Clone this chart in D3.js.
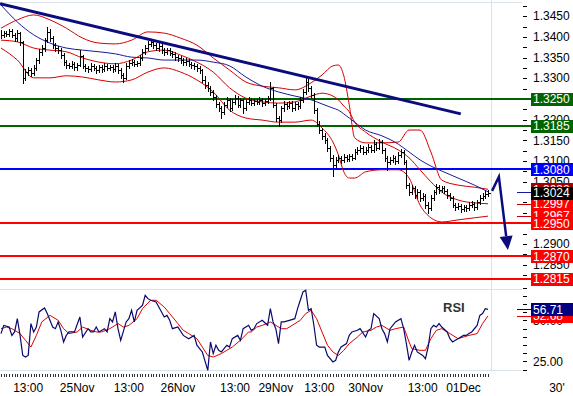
<!DOCTYPE html>
<html>
<head>
<meta charset="utf-8">
<script src="https://cdn.jsdelivr.net/npm/d3@7"></script>
<style>
body { margin: 0; background: #fff; }
svg { display: block; font-family: 'Liberation Sans', Arial, sans-serif; }
</style>
</head>
<body>
<div class="chart"></div>
<script>
// 30' bars, EUR/USD style quotes
var closes = [
  1.3405,1.3409,1.3407,1.3414,1.3405,1.3397,1.3409,1.3388,1.3301,1.3315,
  1.3320,1.3313,1.3325,1.3344,1.3364,1.3373,1.3392,1.3412,1.3397,1.3380,
  1.3373,1.3368,1.3356,1.3339,1.3332,1.3330,1.3335,1.3327,1.3332,1.3354,
  1.3330,1.3325,1.3322,1.3330,1.3325,1.3320,1.3327,1.3322,1.3330,1.3325,
  1.3327,1.3322,1.3330,1.3320,1.3308,1.3301,1.3330,1.3337,1.3339,1.3335,
  1.3337,1.3349,1.3364,1.3373,1.3383,1.3388,1.3380,1.3373,1.3378,1.3368,
  1.3364,1.3368,1.3361,1.3359,1.3351,1.3349,1.3344,1.3339,1.3342,1.3335,
  1.3332,1.3330,1.3325,1.3320,1.3296,1.3284,1.3277,1.3267,1.3255,1.3238,
  1.3228,1.3219,1.3236,1.3248,1.3228,1.3243,1.3252,1.3236,1.3248,1.3228,
  1.3243,1.3248,1.3240,1.3245,1.3243,1.3248,1.3240,1.3245,1.3252,1.3277,
  1.3236,1.3204,1.3199,1.3228,1.3238,1.3233,1.3240,1.3228,1.3238,1.3233,
  1.3248,1.3267,1.3291,1.3277,1.3260,1.3223,1.3190,1.3175,1.3161,1.3151,
  1.3132,1.3108,1.3091,1.3103,1.3108,1.3103,1.3110,1.3105,1.3112,1.3108,
  1.3122,1.3127,1.3132,1.3122,1.3127,1.3134,1.3127,1.3141,1.3132,1.3146,
  1.3127,1.3108,1.3098,1.3103,1.3108,1.3100,1.3115,1.3122,1.3098,1.3042,
  1.3025,1.3035,1.3018,1.3025,1.3011,1.3016,1.2994,1.2987,1.3011,1.3025,
  1.3037,1.3030,1.3035,1.3028,1.3018,1.3011,1.2994,1.2989,1.2992,1.2984,
  1.2989,1.2987,1.2994,1.2996,1.2989,1.3001,1.3011,1.3016,1.3021,1.3024
];
var highs = [
  1.3416,1.3414,1.3415,1.3420,1.3418,1.3409,1.3417,1.3412,1.3390,1.3322,
  1.3328,1.3326,1.3331,1.3350,1.3370,1.3380,1.3398,1.3424,1.3418,1.3402,
  1.3386,1.3378,1.3372,1.3360,1.3345,1.3338,1.3341,1.3339,1.3337,1.3368,
  1.3357,1.3334,1.3330,1.3336,1.3335,1.3329,1.3333,1.3331,1.3336,1.3334,
  1.3333,1.3331,1.3336,1.3334,1.3325,1.3313,1.3336,1.3343,1.3346,1.3344,
  1.3342,1.3355,1.3370,1.3380,1.3390,1.3395,1.3393,1.3385,1.3384,1.3382,
  1.3373,1.3374,1.3372,1.3366,1.3364,1.3357,1.3354,1.3350,1.3348,1.3346,
  1.3340,1.3338,1.3335,1.3330,1.3323,1.3305,1.3290,1.3282,1.3271,1.3260,
  1.3243,1.3233,1.3242,1.3255,1.3252,1.3249,1.3259,1.3256,1.3253,1.3251,
  1.3248,1.3254,1.3252,1.3251,1.3250,1.3254,1.3253,1.3251,1.3258,1.3291,
  1.3280,1.3240,1.3210,1.3234,1.3244,1.3243,1.3246,1.3245,1.3243,1.3242,
  1.3254,1.3273,1.3303,1.3298,1.3282,1.3264,1.3228,1.3196,1.3180,1.3168,
  1.3156,1.3137,1.3114,1.3110,1.3114,1.3113,1.3116,1.3115,1.3118,1.3117,
  1.3128,1.3133,1.3139,1.3137,1.3133,1.3141,1.3139,1.3150,1.3146,1.3153,
  1.3150,1.3131,1.3112,1.3110,1.3114,1.3113,1.3122,1.3130,1.3126,1.3102,
  1.3048,1.3042,1.3040,1.3032,1.3030,1.3022,1.3020,1.3000,1.3017,1.3031,
  1.3044,1.3042,1.3041,1.3040,1.3033,1.3023,1.3015,1.2999,1.2998,1.2996,
  1.2995,1.2994,1.3000,1.3003,1.3001,1.3007,1.3017,1.3022,1.3027,1.3030
];
var lows = [
  1.3398,1.3400,1.3401,1.3403,1.3399,1.3390,1.3390,1.3381,1.3289,1.3295,
  1.3308,1.3306,1.3309,1.3320,1.3338,1.3355,1.3366,1.3388,1.3390,1.3374,
  1.3366,1.3360,1.3349,1.3333,1.3326,1.3324,1.3325,1.3321,1.3320,1.3329,
  1.3324,1.3318,1.3316,1.3317,1.3319,1.3313,1.3315,1.3316,1.3318,1.3319,
  1.3320,1.3315,1.3317,1.3312,1.3300,1.3291,1.3298,1.3325,1.3331,1.3329,
  1.3330,1.3333,1.3345,1.3359,1.3368,1.3378,1.3374,1.3368,1.3367,1.3362,
  1.3357,1.3358,1.3355,1.3352,1.3345,1.3342,1.3337,1.3333,1.3333,1.3329,
  1.3326,1.3323,1.3318,1.3312,1.3290,1.3277,1.3270,1.3260,1.3247,1.3230,
  1.3220,1.3204,1.3214,1.3231,1.3222,1.3223,1.3238,1.3230,1.3231,1.3216,
  1.3224,1.3238,1.3235,1.3236,1.3237,1.3238,1.3234,1.3235,1.3240,1.3248,
  1.3230,1.3196,1.3185,1.3194,1.3222,1.3226,1.3227,1.3222,1.3223,1.3226,
  1.3229,1.3243,1.3262,1.3270,1.3254,1.3215,1.3184,1.3168,1.3153,1.3143,
  1.3124,1.3099,1.3063,1.3085,1.3097,1.3096,1.3098,1.3099,1.3100,1.3102,
  1.3104,1.3117,1.3121,1.3116,1.3117,1.3122,1.3121,1.3123,1.3126,1.3128,
  1.3120,1.3101,1.3079,1.3092,1.3097,1.3094,1.3096,1.3110,1.3092,1.3035,
  1.3018,1.3020,1.3010,1.3012,1.3004,1.3005,1.2986,1.2975,1.2982,1.3006,
  1.3020,1.3024,1.3025,1.3022,1.3012,1.3005,1.2988,1.2983,1.2984,1.2978,
  1.2979,1.2980,1.2982,1.2988,1.2982,1.2984,1.2996,1.3006,1.3010,1.3015
];

// bollinger bands + moving average, read at these bars
var bandIdx = [0,6,12,18,24,30,36,42,48,54,60,66,72,78,84,90,96,102,108,114,118,122,124,126,128,130,134,140,146,150,154,158,162,168,174,179];
var upper = [1.3421,1.3441,1.3453,1.3441,1.3421,1.3397,1.3385,1.3383,1.3392,1.3412,1.3409,1.3397,1.3380,1.3349,1.3320,1.3291,1.3281,1.3277,1.3272,1.3289,1.3308,1.3330,1.3332,1.3306,1.3236,1.3156,1.3144,1.3144,1.3146,1.3175,1.3175,1.3122,1.3054,1.3042,1.3037,1.3032];
var middle = [1.3392,1.3388,1.3373,1.3368,1.3364,1.3349,1.3339,1.3335,1.3344,1.3364,1.3368,1.3356,1.3339,1.3315,1.3277,1.3252,1.3243,1.3240,1.3243,1.3257,1.3264,1.3257,1.3248,1.3233,1.3219,1.3194,1.3170,1.3146,1.3127,1.3108,1.3079,1.3050,1.3025,1.3006,1.2999,1.2997];
var lower = [1.3373,1.3344,1.3301,1.3301,1.3306,1.3303,1.3296,1.3291,1.3296,1.3315,1.3325,1.3315,1.3296,1.3267,1.3223,1.3204,1.3199,1.3194,1.3194,1.3199,1.3180,1.3146,1.3115,1.3074,1.3059,1.3059,1.3074,1.3079,1.3079,1.3059,1.2994,1.2963,1.2953,1.2958,1.2963,1.2967];
var movAvg = [1.3477,1.3436,1.3405,1.3385,1.3373,1.3368,1.3364,1.3359,1.3351,1.3349,1.3344,1.3344,1.3344,1.3339,1.3330,1.3303,1.3281,1.3267,1.3257,1.3248,1.3238,1.3228,1.3223,1.3214,1.3204,1.3194,1.3175,1.3161,1.3141,1.3122,1.3103,1.3088,1.3076,1.3059,1.3042,1.3026];

// RSI and its signal line
var rsiIdx = [0,1,3,4,5,6,7,8,9,10,11,12,13,14,16,17,19,20,21,22,23,24,25,27,29,30,32,33,34,35,36,38,39,40,41,42,43,44,46,47,48,49,50,52,53,54,55,57,58,60,61,62,63,65,67,69,71,72,74,76,77,78,79,80,81,83,84,85,87,88,89,91,92,93,94,96,98,99,100,101,102,103,104,106,108,109,110,111,112,113,114,115,116,117,119,120,122,123,124,125,127,128,129,131,132,134,135,136,137,139,140,141,142,143,144,145,147,148,149,150,151,152,153,155,156,157,158,159,160,161,162,164,165,166,167,168,170,171,172,173,175,176,177,178,179];
var rsiVals = [41.9,46.9,45.9,40.8,42.9,51.0,40.8,28.6,27.6,28.6,48.0,42.9,45.9,55.1,57.5,54.1,45.9,44.9,49.0,43.9,36.8,40.8,42.9,42.9,52.0,39.8,44.9,42.9,42.9,45.9,42.9,44.9,42.9,51.0,49.0,55.1,44.9,37.8,49.0,51.0,56.1,49.0,56.1,59.1,65.2,63.2,62.2,61.2,58.1,52.0,53.0,50.0,44.9,45.9,40.8,38.8,40.8,34.8,30.7,19.5,36.8,29.7,34.8,31.7,30.7,34.8,33.7,38.8,40.8,37.8,44.9,47.0,43.9,44.9,48.0,50.0,47.0,57.1,49.0,44.9,35.8,49.0,49.0,50.0,51.0,57.1,62.2,67.3,68.3,56.1,57.1,47.0,34.8,33.7,33.7,28.6,24.6,25.6,30.7,33.7,35.8,40.8,42.9,43.9,44.9,39.8,43.9,44.9,54.1,51.0,44.9,41.9,36.8,44.9,46.9,49.0,51.0,44.9,35.8,25.6,30.7,34.8,30.7,28.6,26.6,33.7,44.9,46.9,45.9,48.0,45.9,42.9,38.8,36.8,37.8,38.8,40.8,40.8,41.9,42.9,46.9,53.0,54.1,57.1,56.71];
var sigIdx = [0,2,4,7,9,11,13,15,18,21,23,25,28,30,33,35,37,40,43,45,47,50,52,55,57,60,62,65,67,69,72,74,76,78,81,83,85,88,91,92,94,96,99,100,103,105,107,110,112,114,116,118,120,122,124,126,128,131,133,136,138,140,143,145,148,150,151,154,156,158,160,162,165,168,170,172,175,177,179];
var sigVals = [44.9,45.9,44.9,41.9,37.8,33.7,40.8,49.0,53.0,50.0,44.9,41.9,42.9,45.9,43.9,42.9,42.9,44.9,48.0,45.9,46.9,51.0,57.1,62.2,62.2,58.1,54.1,48.0,43.9,41.9,38.8,33.7,28.6,27.6,29.7,31.7,33.7,37.8,42.9,42.9,45.9,46.9,49.0,48.0,44.9,44.9,46.9,50.0,54.1,56.1,51.0,42.9,34.8,30.7,28.6,31.7,35.8,39.8,42.9,43.9,45.9,46.9,43.9,44.9,45.9,36.8,32.7,31.7,31.7,38.8,43.9,44.9,41.9,38.8,39.8,40.8,41.9,48.0,52.68];

// support / resistance levels, trendline and projected path
var levels = [1.3250, 1.3185, 1.3080, 1.2950, 1.2870, 1.2815];
var trendIdx = [0, 169];
var trendVals = [1.3480, 1.3214];
var arrowIdx = [180.5, 183, 186.3];
var arrowVals = [1.3028, 1.3062, 1.2885];

var xTickIdx = [10, 28, 47, 65, 86, 101, 117, 134, 155, 170];
var xTickLabels = ['13:00', '25Nov', '13:00', '26Nov', '13:00', '29Nov', '13:00', '30Nov', '13:00', '01Dec'];

var width = 573;
var height = 396;

var svg = d3.select('.chart')
  .append('svg')
    .attr('width', width)
    .attr('height', height);

var x = d3.scaleLinear().domain([0, closes.length - 1]).range([1, 488]);
var y = d3.scaleLinear().domain([1.2800, 1.3490]).range([285.3, -0.4]);
var yr = d3.scaleLinear().domain([18, 70]).range([372.8, 287.5]);

var levelColors = ['#006400', '#006400', '#0000ff', '#ff0000', '#ff0000', '#ff0000'];

// light frame / grid
var grid = svg.append('g').attr('stroke', '#d9e1ea').attr('shape-rendering', 'crispEdges');
grid.append('line').attr('x1', 491.5).attr('x2', 491.5).attr('y1', 0).attr('y2', 372);
grid.append('line').attr('x1', 0).attr('x2', 522).attr('y1', 2.5).attr('y2', 2.5);
grid.append('line').attr('x1', 0).attr('x2', 522).attr('y1', 289.5).attr('y2', 289.5);
grid.append('line').attr('x1', 0).attr('x2', 522).attr('y1', 370.5).attr('y2', 370.5);

// right price axis
var priceTicks = d3.range(1.2825, 1.3490, 0.0025);
svg.append('g')
  .selectAll('line')
  .data(priceTicks)
  .enter().append('line')
    .attr('x1', 523).attr('x2', 527)
    .attr('y1', d => Math.round(y(d)) + 0.5)
    .attr('y2', d => Math.round(y(d)) + 0.5)
    .attr('stroke', '#000')
    .attr('shape-rendering', 'crispEdges');
svg.append('g')
  .selectAll('text')
  .data(priceTicks.filter((d, i) => i % 2 === 1))
  .enter().append('text')
    .attr('x', 533)
    .attr('y', d => y(d))
    .attr('dy', '0.35em')
    .attr('font-size', 12)
    .text(d => d3.format('.4f')(d));

// rsi axis
var rsiTicks = d3.range(20, 71, 5);
svg.append('g')
  .selectAll('line')
  .data(rsiTicks)
  .enter().append('line')
    .attr('x1', 523).attr('x2', 527)
    .attr('y1', d => Math.round(yr(d)) + 0.5)
    .attr('y2', d => Math.round(yr(d)) + 0.5)
    .attr('stroke', '#000')
    .attr('shape-rendering', 'crispEdges');
svg.append('g')
  .selectAll('text')
  .data([25, 50])
  .enter().append('text')
    .attr('x', 533)
    .attr('y', d => yr(d))
    .attr('dy', '0.35em')
    .attr('font-size', 12)
    .text(d => d3.format('.2f')(d));

// horizontal levels
svg.append('g')
  .selectAll('line')
  .data(levels)
  .enter().append('line')
    .attr('x1', 0).attr('x2', 531)
    .attr('y1', d => Math.round(y(d)))
    .attr('y2', d => Math.round(y(d)))
    .attr('stroke', (d, i) => levelColors[i])
    .attr('stroke-width', 2)
    .attr('shape-rendering', 'crispEdges');

function bandLine(vals) {
  return d3.line()
    .x((d, i) => x(bandIdx[i]))
    .y(d => y(d))
    .curve(d3.curveMonotoneX)(vals);
}

[upper, middle, lower].forEach(function (b) {
  svg.append('path')
    .attr('d', bandLine(b))
    .attr('fill', 'none')
    .attr('stroke', '#d40000')
    .attr('stroke-width', 1);
});
svg.append('path')
  .attr('d', bandLine(movAvg))
  .attr('fill', 'none')
  .attr('stroke', '#1a1a9c')
  .attr('stroke-width', 1);

// ohlc bars
var bars = svg.append('g')
  .attr('stroke', '#000')
  .attr('shape-rendering', 'crispEdges');
closes.forEach(function (c, i) {
  var px = Math.round(x(i)) + 0.5;
  bars.append('line')
    .attr('x1', px).attr('x2', px)
    .attr('y1', Math.round(y(highs[i]))).attr('y2', Math.round(y(lows[i])) + 1);
  if (i > 0) {
    bars.append('line')
      .attr('x1', px - 2).attr('x2', px)
      .attr('y1', Math.round(y(closes[i - 1])) + 0.5).attr('y2', Math.round(y(closes[i - 1])) + 0.5);
  }
  bars.append('line')
    .attr('x1', px).attr('x2', px + 2)
    .attr('y1', Math.round(y(c)) + 0.5).attr('y2', Math.round(y(c)) + 0.5);
});

// trendline
svg.append('line')
  .attr('x1', x(trendIdx[0]) - 1).attr('y1', y(trendVals[0]))
  .attr('x2', x(trendIdx[1])).attr('y2', y(trendVals[1]))
  .attr('stroke', '#0b0b7d')
  .attr('stroke-width', 3);

// projected path arrow
var ap = arrowIdx.map((d, i) => [x(d), y(arrowVals[i])]);
var a1 = ap[1], a2 = ap[2];
var dx = a2[0] - a1[0], dy = a2[1] - a1[1], len = Math.sqrt(dx * dx + dy * dy);
var ux = dx / len, uy = dy / len;
var base = [a2[0] - ux * 14, a2[1] - uy * 14];
svg.append('path')
  .attr('d', d3.line()([ap[0], ap[1], base]))
  .attr('fill', 'none')
  .attr('stroke', '#0b0b7d')
  .attr('stroke-width', 2.5);
svg.append('path')
  .attr('d', d3.line()([
    [base[0] - uy * 6.5, base[1] + ux * 6.5],
    a2,
    [base[0] + uy * 6.5, base[1] - ux * 6.5]
  ]) + 'Z')
  .attr('fill', '#0b0b7d');

// rsi lines
svg.append('path')
  .attr('d', d3.line().x((d, i) => x(sigIdx[i])).y(d => yr(d))(sigVals))
  .attr('fill', 'none')
  .attr('stroke', '#e00000')
  .attr('stroke-width', 1);
svg.append('path')
  .attr('d', d3.line().x((d, i) => x(rsiIdx[i])).y(d => yr(d))(rsiVals))
  .attr('fill', 'none')
  .attr('stroke', '#0a0a6e')
  .attr('stroke-width', 1.2);

svg.append('text')
  .attr('x', 443).attr('y', 312)
  .attr('font-size', 13)
  .attr('font-weight', 'bold')
  .attr('fill', '#333')
  .text('RSI');

// value boxes on the right
function valueBox(yPos, txt, fill, marker) {
  var g = svg.append('g');
  if (marker) {
    g.append('line')
      .attr('x1', 517).attr('x2', 531)
      .attr('y1', Math.round(yPos) + 0.5).attr('y2', Math.round(yPos) + 0.5)
      .attr('stroke', marker)
      .attr('shape-rendering', 'crispEdges');
  }
  g.append('rect')
    .attr('x', 531).attr('y', Math.round(yPos) - 6)
    .attr('width', 42).attr('height', 13)
    .attr('fill', fill);
  g.append('text')
    .attr('x', 533).attr('y', yPos)
    .attr('dy', '0.36em')
    .attr('font-size', 12)
    .attr('fill', '#fff')
    .text(txt);
}

var last = closes.length - 1;
var fmt = d3.format('.4f');
valueBox(y(upper[upper.length - 1]), fmt(upper[upper.length - 1]), '#a00000', null);
valueBox(y(lower[lower.length - 1]), fmt(lower[lower.length - 1]), '#ff0000', '#c00000');
valueBox(y(middle[middle.length - 1]), fmt(middle[middle.length - 1]), '#ff0000', '#c00000');
valueBox(y(movAvg[movAvg.length - 1]) + 0.1, '', 'none', '#1a1a9c');
valueBox(y(closes[last]), fmt(closes[last]), '#000', null);
levels.forEach(function (l, i) {
  valueBox(y(l), fmt(l), levelColors[i], null);
});
valueBox(yr(sigVals[sigVals.length - 1]), d3.format('.2f')(sigVals[sigVals.length - 1]), '#ff0000', '#e00000');
valueBox(yr(rsiVals[rsiVals.length - 1]), d3.format('.2f')(rsiVals[rsiVals.length - 1]), '#000080', '#000080');

// time axis
svg.append('g')
  .selectAll('line')
  .data(closes)
  .enter().append('line')
    .attr('x1', (d, i) => Math.round(x(i)) + 0.5)
    .attr('x2', (d, i) => Math.round(x(i)) + 0.5)
    .attr('y1', 374).attr('y2', 377)
    .attr('stroke', '#333')
    .attr('shape-rendering', 'crispEdges');
svg.append('g')
  .selectAll('text')
  .data(xTickLabels)
  .enter().append('text')
    .attr('x', (d, i) => x(xTickIdx[i]))
    .attr('y', 392)
    .attr('text-anchor', 'middle')
    .attr('font-size', 12)
    .text(d => d);
svg.append('text')
  .attr('x', 557).attr('y', 392)
  .attr('text-anchor', 'middle')
  .attr('font-size', 12)
  .text("30'");
</script>
</body>
</html>
